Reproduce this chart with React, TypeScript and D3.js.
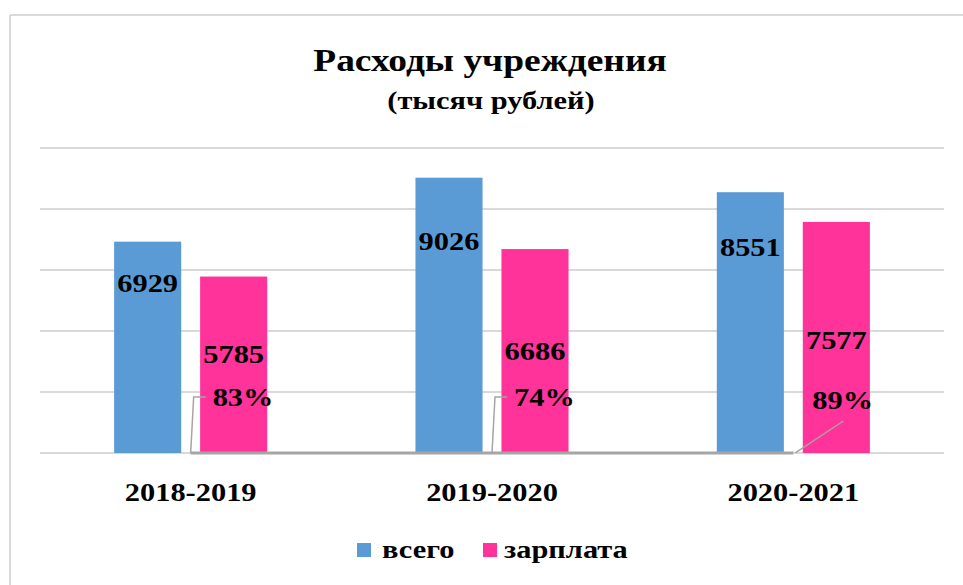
import React from "react";
import * as d3 from "d3";

const categories = ["2018-2019", "2019-2020", "2020-2021"];
const seriesNames = ["всего", "зарплата"];
const totalValues = [6929, 9026, 8551];
const salaryValues = [5785, 6686, 7577];
const shareValues = [0.83, 0.74, 0.89];
const shareLabels = ["83%", "74%", "89%"];
const yTicks = [0, 2000, 4000, 6000, 8000, 10000];

const COLORS = ["#5b9bd5", "#ff3399"];
const LINE_COLOR = "#a5a5a5";
const GRID = "#d9d9d9";
const FONT = "'Liberation Serif', 'Times New Roman', serif";
const SX = 1.17;

// label layout (pixel offsets below the bar top for value labels)
const totalLabelDy = [50, 72, 64];
const salaryLabelDy = [86, 111, 127];

function SText({ x, y, size, anchor = "middle", children }: any) {
  return (
    <text
      transform={`translate(${x},${y}) scale(${SX},1)`}
      textAnchor={anchor}
      fontFamily={FONT}
      fontWeight="bold"
      fontSize={size}
      fill="#000"
    >
      {children}
    </text>
  );
}

export default function App() {
  const W = 963;
  const H = 585;
  const x0 = d3
    .scaleBand<string>()
    .domain(categories)
    .range([40, 944])
    .paddingInner(0.492)
    .paddingOuter(0.246);
  const x1 = d3
    .scaleBand<string>()
    .domain(seriesNames)
    .range([0, x0.bandwidth()])
    .paddingInner(0.22);
  const y = d3.scaleLinear().domain([0, 10000]).range([453, 148]);

  const center = (c: string) => (x0(c) as number) + x0.bandwidth() / 2;
  const line = d3
    .line<number>()
    .x((_, i) => center(categories[i]))
    .y((d) => y(d));

  const series = [totalValues, salaryValues];

  return (
    <svg
      width={W}
      height={H}
      style={{ position: "absolute", left: 0, top: 0, background: "#fff" }}
    >
      <rect x={0} y={0} width={W} height={H} fill="#fff" />
      {/* chart border */}
      <line x1={10} y1={15} x2={W} y2={15} stroke={GRID} strokeWidth={2} />
      <line x1={10} y1={15} x2={10} y2={H} stroke={GRID} strokeWidth={2} />

      {/* title */}
      <SText x={490} y={71} size={32}>
        Расходы учреждения
      </SText>
      <SText x={491} y={109} size={26}>
        (тысяч рублей)
      </SText>

      {/* grid */}
      {yTicks.map((t) => (
        <line
          key={t}
          x1={40}
          x2={944}
          y1={y(t)}
          y2={y(t)}
          stroke={GRID}
          strokeWidth={2}
        />
      ))}

      {/* bars */}
      {categories.map((c, i) => (
        <g key={c} transform={`translate(${x0(c)},0)`}>
          {seriesNames.map((s, k) => (
            <rect
              key={s}
              x={x1(s)}
              y={y(series[k][i])}
              width={x1.bandwidth()}
              height={y(0) - y(series[k][i])}
              fill={COLORS[k]}
            />
          ))}
        </g>
      ))}

      {/* share line series */}
      <path
        d={line(shareValues) as string}
        fill="none"
        stroke={LINE_COLOR}
        strokeWidth={3}
      />

      {/* leader lines */}
      {categories.map((c, i) => {
        const cx = center(c);
        const cy = y(shareValues[i]);
        if (i < 2) {
          return (
            <polyline
              key={c}
              points={`${cx},${cy} ${cx + 3},397 ${cx + 15},397`}
              fill="none"
              stroke={LINE_COLOR}
              strokeWidth={1.5}
            />
          );
        }
        return (
          <line
            key={c}
            x1={cx + 2}
            y1={cy}
            x2={cx + 50}
            y2={421}
            stroke={LINE_COLOR}
            strokeWidth={1.5}
          />
        );
      })}

      {/* value labels */}
      {categories.map((c, i) => (
        <g key={"l" + c}>
          <SText
            x={(x0(c) as number) + (x1(seriesNames[0]) as number) + x1.bandwidth() / 2}
            y={y(totalValues[i]) + totalLabelDy[i]}
            size={26}
          >
            {totalValues[i]}
          </SText>
          <SText
            x={(x0(c) as number) + (x1(seriesNames[1]) as number) + x1.bandwidth() / 2}
            y={y(salaryValues[i]) + salaryLabelDy[i]}
            size={26}
          >
            {salaryValues[i]}
          </SText>
        </g>
      ))}

      {/* share labels */}
      {categories.map((c, i) => {
        const cx = center(c);
        return i < 2 ? (
          <SText key={"p" + c} x={cx + 22} y={406} size={26} anchor="start">
            {shareLabels[i]}
          </SText>
        ) : (
          <SText key={"p" + c} x={cx + 19} y={409} size={26} anchor="start">
            {shareLabels[i]}
          </SText>
        );
      })}

      {/* category labels */}
      {categories.map((c) => (
        <SText key={"c" + c} x={center(c)} y={501} size={26}>
          {c}
        </SText>
      ))}

      {/* legend */}
      <rect x={357} y={543} width={14} height={14} fill={COLORS[0]} />
      <SText x={382} y={558} size={26} anchor="start">
        {seriesNames[0]}
      </SText>
      <rect x={483} y={543} width={14} height={14} fill={COLORS[1]} />
      <SText x={504} y={558} size={26} anchor="start">
        {seriesNames[1]}
      </SText>
    </svg>
  );
}
